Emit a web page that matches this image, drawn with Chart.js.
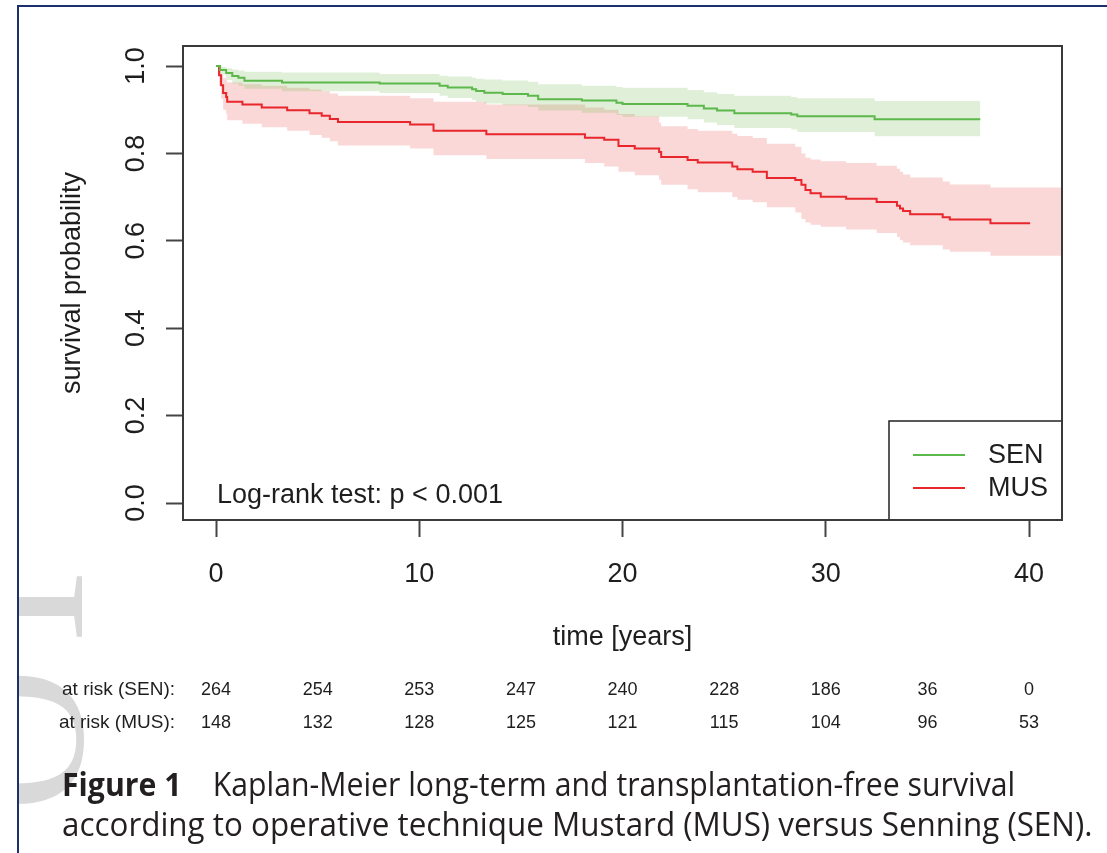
<!DOCTYPE html>
<html>
<head>
<meta charset="utf-8">
<script src="https://cdn.jsdelivr.net/npm/chart.js@4.4.1/dist/chart.umd.min.js"></script>
<style>
  html, body { margin: 0; padding: 0; background: #fff; }
  body { width: 1107px; height: 853px; position: relative; overflow: hidden; }
  #frame { position: absolute; left: 17px; top: 5px; right: -5px; bottom: -5px; border-left: 2px solid #1c2f6e; border-top: 2px solid #1c2f6e; }
  #mark { position: absolute; left: 19px; top: 0; width: 80px; height: 853px; overflow: hidden; }
  #mark span { position: absolute; left: 0; top: 0; font: 200px/1 'Liberation Serif', serif; color: #d9d9d9; white-space: nowrap; transform-origin: 0 0; transform: translate(-104px, 812px) rotate(-90deg); }
  #plot { position: absolute; left: 0; top: 0; }
  .cap { position: absolute; left: 62px; white-space: nowrap; font: 33px/40px 'Open Sans', sans-serif; color: #231f20; transform-origin: 0 0; }
  .cap b { font-weight: 700; }
</style>
</head>
<body>
<div id="mark"><span>OT</span></div>
<div id="frame"></div>
<canvas id="plot" width="1107" height="853"></canvas>
<div class="cap" id="cap1" style="top:764px"><b>Figure 1</b><span style="display:inline-block;width:34px"></span>Kaplan-Meier long-term and transplantation-free survival</div>
<div class="cap" id="cap2" style="top:804px">according to operative technique Mustard (MUS) versus Senning (SEN).</div>

<script>
// Kaplan-Meier steps (time in years, survival probability)
const senTime  = [0, 0.2, 0.5, 0.8, 1.1, 1.4, 3.25, 8.05, 11.0, 11.4, 12.6, 12.8, 13.2, 14.1, 15.35, 15.85, 18.0, 19.7, 20.0, 23.2, 24.0, 24.65, 25.5, 28.3, 28.6, 32.4, 37.6];
const senSurv  = [1.0, 0.991, 0.984, 0.977, 0.973, 0.966, 0.962, 0.960, 0.955, 0.951, 0.947, 0.943, 0.939, 0.936, 0.932, 0.924, 0.921, 0.916, 0.913, 0.909, 0.903, 0.898, 0.892, 0.889, 0.885, 0.878, 0.878];
const senUpper = [1.0, 0.998, 0.995, 0.992, 0.990, 0.987, 0.985, 0.982, 0.978, 0.976, 0.973, 0.971, 0.969, 0.967, 0.964, 0.958, 0.955, 0.952, 0.950, 0.945, 0.940, 0.936, 0.932, 0.929, 0.926, 0.920, 0.920];
const senLower = [1.0, 0.980, 0.968, 0.960, 0.955, 0.948, 0.942, 0.938, 0.932, 0.927, 0.922, 0.918, 0.914, 0.910, 0.906, 0.898, 0.893, 0.888, 0.884, 0.878, 0.871, 0.865, 0.858, 0.855, 0.849, 0.839, 0.839];

const musTime  = [0, 0.15, 0.25, 0.35, 0.5, 0.55, 1.3, 2.25, 3.5, 4.6, 5.2, 5.6, 6.0, 9.55, 10.7, 13.3, 18.15, 19.1, 19.8, 20.6, 21.8, 21.9, 23.2, 23.7, 25.4, 25.65, 26.4, 27.1, 28.5, 28.8, 29.0, 29.25, 29.75, 31.0, 32.5, 33.5, 33.65, 33.8, 34.15, 35.75, 36.1, 38.1, 40.05];
const musSurv  = [1.0, 0.979, 0.956, 0.938, 0.929, 0.918, 0.912, 0.905, 0.899, 0.892, 0.886, 0.879, 0.872, 0.866, 0.852, 0.844, 0.836, 0.831, 0.817, 0.811, 0.803, 0.792, 0.785, 0.779, 0.770, 0.764, 0.758, 0.744, 0.739, 0.728, 0.716, 0.709, 0.701, 0.696, 0.689, 0.680, 0.674, 0.668, 0.661, 0.654, 0.649, 0.640, 0.640];
const musUpper = [1.0, 0.990, 0.980, 0.972, 0.967, 0.962, 0.958, 0.955, 0.950, 0.946, 0.942, 0.937, 0.932, 0.926, 0.918, 0.912, 0.905, 0.900, 0.890, 0.885, 0.870, 0.862, 0.856, 0.852, 0.845, 0.840, 0.835, 0.822, 0.815, 0.800, 0.790, 0.786, 0.782, 0.778, 0.772, 0.765, 0.758, 0.752, 0.745, 0.736, 0.729, 0.722, 0.722];
const musLower = [1.0, 0.955, 0.925, 0.900, 0.890, 0.876, 0.868, 0.860, 0.852, 0.842, 0.836, 0.828, 0.818, 0.811, 0.796, 0.787, 0.778, 0.770, 0.758, 0.750, 0.740, 0.728, 0.718, 0.711, 0.700, 0.694, 0.688, 0.677, 0.665, 0.650, 0.642, 0.637, 0.632, 0.626, 0.618, 0.609, 0.602, 0.596, 0.590, 0.580, 0.575, 0.566, 0.566];
const musBandEnd = 41.7; // MUS confidence band runs on to the last follow-up

const xTicks = [0, 10, 20, 30, 40];
const yTicks = [0, 0.2, 0.4, 0.6, 0.8, 1.0];

// numbers at risk
const riskTimes = [0, 5, 10, 15, 20, 25, 30, 35, 40];
const senRisk = [264, 254, 253, 247, 240, 228, 186, 36, 0];
const musRisk = [148, 132, 128, 125, 121, 115, 104, 96, 53];

const FONT = '"Liberation Sans", Arial, Helvetica, sans-serif';
const INK = '#1e1e1e';
const SEN_COL = '#5cb84a';
const MUS_COL = '#e8262b';

const toPts = (xs, ys) => xs.map((x, i) => ({ x: x, y: ys[i] }));
const last = a => a[a.length - 1];

function lineDs(label, pts, color) {
    return { label: label, data: pts, borderColor: color, borderWidth: 2, pointRadius: 0, stepped: true, fill: false };
}
function bandDs(pts, fill, color) {
    return { label: '', data: pts, borderColor: 'rgba(0,0,0,0)', borderWidth: 0, pointRadius: 0, stepped: true, fill: fill, backgroundColor: color };
}

// R style box round the plot + legend, p-value and the at-risk table
const rPlotExtras = {
    id: 'rPlotExtras',
    afterDraw(chart) {
        const ctx = chart.ctx;
        const a = chart.chartArea;
        const xs = chart.scales.x;
        ctx.save();

        // legend box in the bottom right corner
        const lw = 173, lh = 99;
        const lx = a.right - lw, ly = a.bottom - lh;
        ctx.fillStyle = '#fff';
        ctx.fillRect(lx, ly, lw, lh);
        ctx.strokeStyle = '#222';
        ctx.lineWidth = 1.5;
        ctx.strokeRect(lx, ly, lw, lh);
        ctx.font = '27px ' + FONT;
        ctx.textBaseline = 'middle';
        ctx.textAlign = 'left';
        [0, 1].forEach((di, k) => {
            const ds = chart.data.datasets[di];
            const yy = ly + 34 + k * 33;
            ctx.strokeStyle = ds.borderColor;
            ctx.lineWidth = 2;
            ctx.beginPath();
            ctx.moveTo(lx + 24, yy);
            ctx.lineTo(lx + 76, yy);
            ctx.stroke();
            ctx.fillStyle = INK;
            ctx.fillText(ds.label, lx + 99, yy + 1);
        });

        // plot box
        ctx.strokeStyle = '#3a3a3a';
        ctx.lineWidth = 2;
        ctx.strokeRect(a.left, a.top, a.right - a.left, a.bottom - a.top);

        // log-rank test text
        ctx.fillStyle = INK;
        ctx.font = '27px ' + FONT;
        ctx.textAlign = 'left';
        ctx.fillText('Log-rank test: p < 0.001', xs.getPixelForValue(0) + 1, 496);

        // numbers at risk
        ctx.font = '19px ' + FONT;
        ctx.textAlign = 'right';
        ctx.fillText('at risk (SEN):', 175, 690);
        ctx.fillText('at risk (MUS):', 175, 723);
        ctx.font = '18px ' + FONT;
        ctx.textAlign = 'center';
        riskTimes.forEach((t, i) => {
            const px = xs.getPixelForValue(t);
            ctx.fillText(String(senRisk[i]), px, 690);
            ctx.fillText(String(musRisk[i]), px, 723);
        });
        ctx.restore();
    }
};

const chart = new Chart(document.getElementById('plot').getContext('2d'), {
    type: 'line',
    data: {
        datasets: [
            lineDs('SEN', toPts(senTime, senSurv), SEN_COL),
            lineDs('MUS', toPts(musTime, musSurv), MUS_COL),
            bandDs(toPts(senTime, senUpper), '+1', 'rgba(100,180,60,0.2)'),
            bandDs(toPts(senTime, senLower), false, 'rgba(0,0,0,0)'),
            bandDs(toPts(musTime.concat(musBandEnd), musUpper.concat(last(musUpper))), '+1', 'rgba(230,40,40,0.18)'),
            bandDs(toPts(musTime.concat(musBandEnd), musLower.concat(last(musLower))), false, 'rgba(0,0,0,0)')
        ]
    },
    options: {
        responsive: false,
        animation: false,
        layout: { padding: { top: 46, right: 45, bottom: 0, left: 0 } },
        plugins: { legend: { display: false }, tooltip: { enabled: false } },
        scales: {
            x: {
                type: 'linear', min: -1.624, max: 41.62,
                afterBuildTicks: s => { s.ticks = xTicks.map(v => ({ value: v })); },
                afterFit: s => { s.height = 333; },
                grid: { drawOnChartArea: false, tickLength: 17, tickColor: '#444', tickWidth: 2 },
                border: { display: false },
                ticks: { font: { size: 27, family: FONT }, color: INK, padding: 21, maxRotation: 0, autoSkip: false, callback: v => String(v) },
                title: { display: true, text: 'time [years]', font: { size: 27, family: FONT }, color: INK, padding: { top: 0, bottom: 199 } }
            },
            y: {
                type: 'linear', min: -0.0389, max: 1.0458,
                afterBuildTicks: s => { s.ticks = yTicks.map(v => ({ value: v })); },
                afterFit: s => { s.width = 183; },
                grid: { drawOnChartArea: false, tickLength: 17, tickColor: '#444', tickWidth: 2 },
                border: { display: false },
                ticks: { font: { size: 27, family: FONT }, color: INK, padding: 11, minRotation: 90, maxRotation: 90, crossAlign: 'center', autoSkip: false, callback: v => v.toFixed(1) },
                title: { display: true, text: 'survival probability', font: { size: 27, family: FONT }, color: INK, padding: { top: 56, bottom: 0 } }
            }
        }
    },
    plugins: [rPlotExtras]
});

// squeeze the caption lines to the width they have in the journal layout
function fitCaption() {
    [['cap1', 953], ['cap2', 1030]].forEach(([id, w]) => {
        const el = document.getElementById(id);
        el.style.transform = 'none';
        el.style.transform = 'scaleX(' + (w / el.offsetWidth) + ')';
    });
}
fitCaption();
if (document.fonts) document.fonts.ready.then(fitCaption);
</script>
</body>
</html>
